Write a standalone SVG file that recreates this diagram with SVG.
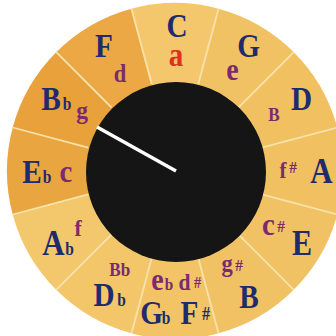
<svg xmlns="http://www.w3.org/2000/svg" width="336" height="336" viewBox="0 0 336 336">
<style>
.M{font-family:"Liberation Serif","Times New Roman",serif;font-weight:bold;font-size:34px;fill:#1F2B6C;text-anchor:middle}
.fl{font-family:"Liberation Serif","Times New Roman",serif;font-weight:bold;font-size:18px;fill:#1F2B6C;text-anchor:middle}
.m{font-family:"Liberation Serif","Times New Roman",serif;font-weight:bold;fill:#7A2A6E;text-anchor:middle}
.dk{fill:#E9A540}
.lt{fill:#F1C263}
.div{stroke:#F7E2AC;stroke-width:1.8}
</style>
<rect width="336" height="336" fill="#FFFFFF"/>
<g id="sector-C">
<path class="lt" style="fill:#F4C76D" d="M175,171 L131.5,8.7 A168,168 0 0 1 218.5,8.7 Z"/>
<text class="M" transform="translate(177,37) scale(0.86,1)">C</text>
<text class="m" style="fill:#E0301E" font-size="33" transform="translate(176,66) scale(0.88,1)">a</text>
</g>
<g id="sector-G">
<path class="lt" d="M175,171 L218.5,8.7 A168,168 0 0 1 293.8,52.2 Z"/>
<text class="M" transform="translate(248.5,57) scale(0.86,1)">G</text>
<text class="m" font-size="31" transform="translate(232.5,80) scale(0.9,1)">e</text>
</g>
<g id="sector-D">
<path class="lt" style="fill:#F1C061" d="M175,171 L293.8,52.2 A168,168 0 0 1 337.3,127.5 Z"/>
<text class="M" font-size="35" transform="translate(301.5,110) scale(0.86,1)">D</text>
<text class="m" font-size="19" transform="translate(274,121) scale(0.9,1)">B</text>
</g>
<g id="sector-A">
<path class="lt" style="fill:#F1C061" d="M175,171 L337.3,127.5 A168,168 0 0 1 337.3,214.5 Z"/>
<text class="M" style="font-size:36px" transform="translate(321.5,183) scale(0.86,1)">A</text>
<text class="m" font-size="23" transform="translate(283,178) scale(0.9,1)">f</text>
<text class="m" font-size="17" transform="translate(293,173) scale(0.9,1)">#</text>
</g>
<g id="sector-E">
<path class="lt" d="M175,171 L337.3,214.5 A168,168 0 0 1 293.8,289.8 Z"/>
<text class="M" style="font-size:35px" transform="translate(302,255) scale(0.86,1)">E</text>
<text class="m" font-size="32" transform="translate(268.5,235) scale(0.9,1)">c</text>
<text class="m" font-size="17" transform="translate(281,232) scale(0.9,1)">#</text>
</g>
<g id="sector-B">
<path class="lt" d="M175,171 L293.8,289.8 A168,168 0 0 1 218.5,333.3 Z"/>
<text class="M" transform="translate(249,308) scale(0.86,1)">B</text>
<text class="m" font-size="25" transform="translate(227,272) scale(0.9,1)">g</text>
<text class="m" font-size="17" transform="translate(239,271) scale(0.9,1)">#</text>
</g>
<g id="sector-Fsharp">
<path class="lt" style="fill:#F2C466" d="M175,171 L218.5,333.3 A168,168 0 0 1 131.5,333.3 Z"/>
<text class="M" transform="translate(151.5,324) scale(0.86,1)">G</text>
<text class="fl" transform="translate(166,324) scale(0.86,1)">b</text>
<text class="M" transform="translate(189.5,324) scale(0.86,1)">F</text>
<text class="fl" style="font-size:18px" transform="translate(206,320) scale(0.9,1)">#</text>
<text class="m" font-size="31" transform="translate(157.5,290) scale(0.9,1)">e</text>
<text class="m" font-size="17" transform="translate(169,290) scale(0.9,1)">b</text>
<text class="m" font-size="24" transform="translate(184.5,290) scale(0.9,1)">d</text>
<text class="m" font-size="16" transform="translate(197.5,288) scale(0.9,1)">#</text>
</g>
<g id="sector-Db">
<path class="lt" style="fill:#F3C669" d="M175,171 L131.5,333.3 A168,168 0 0 1 56.2,289.8 Z"/>
<text class="M" transform="translate(104,306) scale(0.86,1)">D</text>
<text class="fl" transform="translate(121.5,306) scale(0.86,1)">b</text>
<text class="m" font-size="19" transform="translate(115,276) scale(0.9,1)">B</text>
<text class="m" font-size="19" transform="translate(125.5,276) scale(0.9,1)">b</text>
</g>
<g id="sector-Ab">
<path class="lt" style="fill:#F3C76C" d="M175,171 L56.2,289.8 A168,168 0 0 1 12.7,214.5 Z"/>
<text class="M" style="font-size:36px" transform="translate(53.5,255) scale(0.86,1)">A</text>
<text class="fl" transform="translate(69.5,255) scale(0.86,1)">b</text>
<text class="m" font-size="24" transform="translate(78,236) scale(0.9,1)">f</text>
</g>
<g id="sector-Eb">
<path class="dk" d="M175,171 L12.7,214.5 A168,168 0 0 1 12.7,127.5 Z"/>
<text class="M" transform="translate(32,183) scale(0.86,1)">E</text>
<text class="fl" transform="translate(47,183) scale(0.86,1)">b</text>
<text class="m" font-size="32" transform="translate(66,182) scale(0.9,1)">c</text>
</g>
<g id="sector-Bb">
<path class="dk" style="fill:#E8A13B" d="M175,171 L12.7,127.5 A168,168 0 0 1 56.2,52.2 Z"/>
<text class="M" transform="translate(51,110) scale(0.86,1)">B</text>
<text class="fl" transform="translate(67,110) scale(0.86,1)">b</text>
<text class="m" font-size="26" transform="translate(82,119) scale(0.9,1)">g</text>
</g>
<g id="sector-F">
<path class="dk" style="fill:#EBA845" d="M175,171 L56.2,52.2 A168,168 0 0 1 131.5,8.7 Z"/>
<text class="M" transform="translate(104,57) scale(0.86,1)">F</text>
<text class="m" font-size="25" transform="translate(120,82) scale(0.9,1)">d</text>
</g>
<g id="connectors">
<g class="div">
<line x1="151.7" y1="84.1" x2="131.5" y2="8.7"/>
<line x1="198.3" y1="84.1" x2="218.5" y2="8.7"/>
<line x1="238.6" y1="107.4" x2="293.8" y2="52.2"/>
<line x1="261.9" y1="147.7" x2="337.3" y2="127.5"/>
<line x1="261.9" y1="194.3" x2="337.3" y2="214.5"/>
<line x1="238.6" y1="234.6" x2="293.8" y2="289.8"/>
<line x1="198.3" y1="257.9" x2="218.5" y2="333.3"/>
<line x1="151.7" y1="257.9" x2="131.5" y2="333.3"/>
<line x1="111.4" y1="234.6" x2="56.2" y2="289.8"/>
<line x1="88.1" y1="194.3" x2="12.7" y2="214.5"/>
<line x1="88.1" y1="147.7" x2="12.7" y2="127.5"/>
<line x1="111.4" y1="107.4" x2="56.2" y2="52.2"/>
</g>
</g>
<g id="center">
<circle cx="176" cy="172" r="90" fill="#151515"/>
<line x1="176" y1="171" x2="97" y2="127" stroke="#FFFFFF" stroke-width="3.5"/>
</g>
</svg>
